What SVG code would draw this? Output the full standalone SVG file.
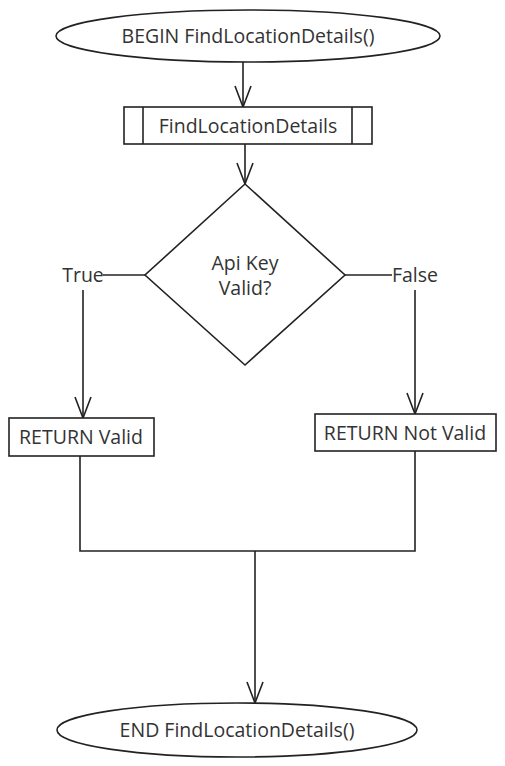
<svg xmlns="http://www.w3.org/2000/svg" width="505" height="766" viewBox="0 0 505 766">
<style>
.s{fill:#fff;stroke:#222;stroke-width:1.6}
.c{fill:none;stroke:#222;stroke-width:1.6}
text{font-family:"Open Sans","Liberation Sans",sans-serif;font-size:19.5px;fill:#333;text-anchor:middle;dominant-baseline:central}
</style>
<defs>
<marker id="a" markerUnits="userSpaceOnUse" markerWidth="24" markerHeight="20" refX="22" refY="9" orient="auto">
<path d="M1,1 L22,9 L1,17" fill="none" stroke="#222" stroke-width="1.6"/>
</marker>
</defs>
<g id="connectors">
<path class="c" d="M243,62 L243,107" marker-end="url(#a)"/>
<path class="c" d="M245,144 L245,184" marker-end="url(#a)"/>
<path class="c" d="M145,275 L103,275"/>
<path class="c" d="M83,290 L83,418" marker-end="url(#a)"/>
<path class="c" d="M345,275 L392,275"/>
<path class="c" d="M415,290 L415,414" marker-end="url(#a)"/>
<path class="c" d="M80,456 L80,551 L415,551 L415,451"/>
<path class="c" d="M255,551 L255,703" marker-end="url(#a)"/>
<text x="83" y="274">True</text>
<text x="415" y="274">False</text>
</g>
<g id="begin">
<ellipse class="s" cx="248" cy="36" rx="192" ry="26"/>
<text x="248" y="35">BEGIN FindLocationDetails()</text>
</g>
<g id="findLocationDetails">
<rect class="s" x="124" y="107" width="248" height="37"/>
<line class="c" x1="143" y1="107" x2="143" y2="144"/>
<line class="c" x1="352" y1="107" x2="352" y2="144"/>
<text x="248" y="125">FindLocationDetails</text>
</g>
<g id="decision">
<polygon class="s" points="245,184 345,275 245,365 145,275"/>
<text x="245" y="262">Api Key</text>
<text x="245" y="287">Valid?</text>
</g>
<g id="returnValid">
<rect class="s" x="9" y="418" width="145" height="38"/>
<text x="81" y="436">RETURN Valid</text>
</g>
<g id="returnNotValid">
<rect class="s" x="315" y="414" width="181" height="37"/>
<text x="405" y="432">RETURN Not Valid</text>
</g>
<g id="end">
<ellipse class="s" cx="237" cy="730" rx="180" ry="27"/>
<text x="237" y="729">END FindLocationDetails()</text>
</g>
</svg>
